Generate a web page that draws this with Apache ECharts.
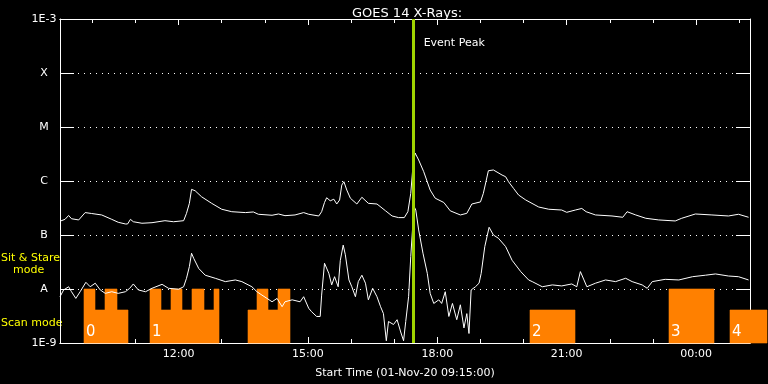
<!DOCTYPE html>
<html><head><meta charset="utf-8">
<script src="https://cdn.jsdelivr.net/npm/echarts@6/dist/echarts.min.js"></script>
<style>html,body{margin:0;padding:0;background:#000;}#c{width:768px;height:384px;}</style>
</head><body><div id="c"></div>
<script>
// ---- data ----
const titleText = 'GOES 14 X-Rays:';
const xAxisName = 'Start Time (01-Nov-20 09:15:00)';
const xMajorHours = [12, 15, 18, 21, 24];
const xMinorHours = [10, 11, 13, 14, 16, 17, 19, 20, 22, 23, 25];
const yTickLabels = ['1E-9', 'A', 'B', 'C', 'M', 'X', '1E-3'];
const eventPeakTime = '17:27';

const longTime = ['09:15','09:22','09:27','09:31','09:41','09:50','09:59','10:13','10:27','10:36','10:46','10:49','10:53','10:57','11:09','11:23','11:41','11:53','12:07','12:11','12:15','12:18','12:23','12:32','12:46','13:00','13:14','13:33','13:44','13:51','14:10','14:19','14:28','14:42','14:54','15:01','15:15','15:19','15:23','15:26','15:31','15:36','15:40','15:44','15:47','15:50','15:54','15:59','16:08','16:15','16:24','16:36','16:48','16:57','17:06','17:14','17:19','17:23','17:26','17:29','17:34','17:41','17:50','17:57','18:09','18:18','18:32','18:41','18:48','19:00','19:04','19:11','19:18','19:30','19:35','19:39','19:46','19:53','20:03','20:21','20:35','20:53','21:00','21:12','21:21','21:27','21:40','22:03','22:18','22:24','22:36','22:50','23:08','23:31','23:40','23:59','00:22','00:45','00:59','01:13'];
const longFlux = [1.8e-7,1.95e-7,2.3e-7,2.0e-7,1.9e-7,2.6e-7,2.5e-7,2.35e-7,1.95e-7,1.72e-7,1.6e-7,1.6e-7,1.95e-7,1.76e-7,1.65e-7,1.69e-7,1.84e-7,1.76e-7,1.84e-7,2.52e-7,3.86e-7,7.0e-7,6.6e-7,5.1e-7,3.86e-7,3.0e-7,2.7e-7,2.6e-7,2.67e-7,2.42e-7,2.32e-7,2.45e-7,2.28e-7,2.35e-7,2.6e-7,2.42e-7,2.25e-7,2.7e-7,4.0e-7,4.9e-7,4.3e-7,4.6e-7,3.75e-7,4.45e-7,8.4e-7,9.7e-7,6.8e-7,4.8e-7,3.75e-7,5.0e-7,3.86e-7,3.75e-7,2.8e-7,2.25e-7,2.1e-7,2.1e-7,2.7e-7,5.9e-7,1.84e-6,3.3e-6,2.45e-6,1.49e-6,6.8e-7,4.8e-7,4.0e-7,2.8e-7,2.35e-7,2.52e-7,3.75e-7,4.1e-7,5.9e-7,1.55e-6,1.6e-6,1.29e-6,1.2e-6,9.7e-7,7.3e-7,5.5e-7,4.45e-7,3.3e-7,3.0e-7,2.9e-7,2.63e-7,2.9e-7,3.1e-7,2.7e-7,2.35e-7,2.25e-7,2.13e-7,2.7e-7,2.35e-7,2.04e-7,1.9e-7,1.82e-7,2.04e-7,2.45e-7,2.35e-7,2.25e-7,2.42e-7,2.13e-7];

const shortTime = ['09:15','09:20','09:27','09:31','09:37','09:43','09:51','09:57','10:04','10:11','10:18','10:27','10:36','10:46','10:52','10:57','11:04','11:14','11:23','11:37','11:46','12:00','12:07','12:11','12:15','12:18','12:21','12:28','12:37','12:51','13:05','13:19','13:28','13:42','13:49','13:56','14:03','14:10','14:17','14:24','14:28','14:38','14:49','14:54','15:01','15:05','15:12','15:17','15:19','15:23','15:29','15:33','15:37','15:42','15:45','15:49','15:52','15:57','16:01','16:06','16:10','16:15','16:20','16:24','16:30','16:36','16:41','16:45','16:49','16:52','16:59','17:04','17:09','17:13','17:16','17:20','17:23','17:26','17:28','17:30','17:34','17:40','17:46','17:50','17:55','18:02','18:06','18:11','18:16','18:21','18:27','18:32','18:37','18:41','18:44','18:47','18:53','18:58','19:01','19:06','19:12','19:18','19:25','19:35','19:44','19:56','20:07','20:12','20:26','20:40','20:53','21:07','21:14','21:19','21:24','21:28','21:40','21:54','22:08','22:22','22:31','22:45','22:52','22:59','23:17','23:36','23:55','00:13','00:27','00:45','00:59','01:13'];
const shortFlux = [7.2e-9,9.6e-9,1.1e-8,8.9e-9,6.7e-9,8.9e-9,1.33e-8,1.1e-8,1.28e-8,9.6e-9,8.3e-9,8.9e-9,8.3e-9,8.9e-9,1.03e-8,1.24e-8,9.6e-9,8.9e-9,1.03e-8,1.22e-8,1.03e-8,9.9e-9,1.1e-8,1.58e-8,2.6e-8,4.6e-8,3.7e-8,2.4e-8,1.8e-8,1.58e-8,1.37e-8,1.47e-8,1.37e-8,1.1e-8,8.9e-9,7.7e-9,6.7e-9,5.8e-9,6.7e-9,4.7e-9,5.8e-9,6.3e-9,5.8e-9,7.2e-9,4.4e-9,3.8e-9,3.1e-9,3.1e-9,7.7e-9,3.0e-8,1.95e-8,1.19e-8,1.69e-8,1.1e-8,3.4e-8,6.5e-8,4.3e-8,1.47e-8,1.1e-8,7.2e-9,1.37e-8,1.8e-8,1.28e-8,6.3e-9,1.03e-8,7.2e-9,4.7e-9,3.5e-9,1.1e-9,2.5e-9,2.2e-9,2.7e-9,1.6e-9,1.1e-9,2.5e-9,7.2e-9,4.0e-8,1.65e-7,3.3e-7,2.9e-7,1.24e-7,4.6e-8,1.95e-8,8.3e-9,5.4e-9,6.3e-9,5.4e-9,8.9e-9,3.1e-9,5.4e-9,2.7e-9,5.1e-9,1.9e-9,3.5e-9,1.5e-9,9.6e-9,1.1e-8,1.28e-8,1.95e-8,6.1e-8,1.39e-7,1.0e-7,8.7e-8,6.1e-8,3.4e-8,2.1e-8,1.47e-8,1.37e-8,1.1e-8,1.19e-8,1.14e-8,1.24e-8,1.1e-8,2.1e-8,1.47e-8,1.1e-8,1.28e-8,1.47e-8,1.37e-8,1.58e-8,1.37e-8,1.19e-8,1.03e-8,1.37e-8,1.51e-8,1.47e-8,1.69e-8,1.8e-8,1.9e-8,1.74e-8,1.69e-8,1.47e-8];

const scanStart = ['09:49','10:04','10:18','10:34','11:20','11:36','11:49','12:05','12:19','12:35','12:49','13:37','13:49','14:04','14:18','20:09','23:22','00:47'];
const scanEnd   = ['10:04','10:18','10:34','10:49','11:36','11:49','12:05','12:19','12:35','12:49','12:56','13:49','14:04','14:18','14:35','21:11','00:25','01:38'];
const scanTop   = [1e-8,4.1e-9,1e-8,4.1e-9,1e-8,4.1e-9,1e-8,4.1e-9,1e-8,4.1e-9,1e-8,4.1e-9,1e-8,4.1e-9,1e-8,4.1e-9,1e-8,4.1e-9];
const scanLabel = ['0','','','','1','','','','','','','','','','','2','3','4'];

// ---- helpers ----
function toHours(s){ const p = s.split(':').map(Number); let v = p[0] + p[1]/60; if (v < 9) v += 24; return v; }
function fmtHour(v){ const h = Math.round(v) % 24; return (h < 10 ? '0' : '') + h + ':00'; }
const FONT = 'DejaVu Sans';

const chart = echarts.init(document.getElementById('c'));
const xBase = { type: 'value', min: 9.25, max: 25.25, gridIndex: 0, splitLine: {show: false},
  axisLine: {show: true, onZero: false, lineStyle: {color: '#fff', width: 1}} };

chart.setOption({
  backgroundColor: '#000',
  animation: false,
  title: { text: titleText, left: 402, textAlign: 'center', top: 2,
    textStyle: {color: '#fff', fontSize: 13, fontWeight: 'normal', fontFamily: FONT} },
  grid: { left: 60, right: 18, top: 19, bottom: 41, containLabel: false },
  xAxis: [
    Object.assign({}, xBase, { position: 'bottom',
      name: xAxisName, nameLocation: 'middle', nameGap: 25,
      nameTextStyle: {color: '#fff', fontSize: 11, fontFamily: FONT},
      axisTick: {show: true, inside: true, length: 6, customValues: xMajorHours, lineStyle: {color: '#fff'}},
      axisLabel: {show: true, customValues: xMajorHours, formatter: fmtHour, color: '#fff', fontSize: 11, fontFamily: FONT, margin: 6} }),
    Object.assign({}, xBase, { position: 'bottom', offset: 0,
      axisTick: {show: true, inside: true, length: 4, customValues: xMinorHours, lineStyle: {color: '#fff'}},
      axisLabel: {show: false} }),
    Object.assign({}, xBase, { position: 'top',
      axisTick: {show: true, inside: true, length: 6, customValues: xMajorHours, lineStyle: {color: '#fff'}},
      axisLabel: {show: false} }),
    Object.assign({}, xBase, { position: 'top', offset: 0,
      axisTick: {show: true, inside: true, length: 4, customValues: xMinorHours, lineStyle: {color: '#fff'}},
      axisLabel: {show: false} })
  ],
  yAxis: [
    { type: 'log', logBase: 10, min: 1e-9, max: 1e-3, interval: 1, position: 'left',
      axisLine: {show: true, onZero: false, lineStyle: {color: '#fff'}},
      axisTick: {show: true, inside: true, length: 14, lineStyle: {color: '#fff'}},
      axisLabel: {color: '#fff', fontSize: 11, fontFamily: FONT, align: 'center', margin: 16,
        showMinLabel: true, showMaxLabel: true,
        formatter: v => yTickLabels[Math.round(Math.log10(v)) + 9] || ''},
      splitLine: {show: true, lineStyle: {color: '#fff', type: [1, 5], width: 1}} },
    { type: 'log', logBase: 10, min: 1e-9, max: 1e-3, interval: 1, position: 'right',
      axisLine: {show: true, onZero: false, lineStyle: {color: '#fff'}},
      axisTick: {show: true, inside: true, length: 14, lineStyle: {color: '#fff'}},
      axisLabel: {show: false}, splitLine: {show: false} }
  ],
  graphic: [
    {type: 'text', left: 1, top: 253, style: {text: 'Sit & Stare', fill: '#ffff00', font: '11px ' + FONT}},
    {type: 'text', left: 13, top: 265, style: {text: 'mode', fill: '#ffff00', font: '11px ' + FONT}},
    {type: 'text', left: 1, top: 318, style: {text: 'Scan mode', fill: '#ffff00', font: '11px ' + FONT}}
  ],
  series: [
    { type: 'custom', name: 'scan', xAxisIndex: 0, yAxisIndex: 0, clip: false, z: 1,
      data: scanStart.map((s, i) => [toHours(s), toHours(scanEnd[i]), scanTop[i]]),
      renderItem: function(params, api){
        const p0 = api.coord([api.value(0), api.value(2)]);
        const p1 = api.coord([api.value(1), 1e-9]);
        const x0 = Math.round(p0[0]), x1 = Math.round(p1[0]);
        const y0 = Math.round(p0[1]), y1 = Math.round(p1[1]);
        const children = [{ type: 'rect', shape: {x: x0, y: y0, width: x1 - x0, height: y1 - y0},
          style: {fill: '#ff8000', stroke: '#ff8000', lineWidth: 0.6} }];
        const lab = scanLabel[params.dataIndex];
        if (lab) children.push({ type: 'text', x: x0 + 2, y: y1 - 3,
          style: {text: lab, fill: '#fff', font: '15px ' + FONT, textVerticalAlign: 'bottom', textAlign: 'left'} });
        return {type: 'group', children: children};
      } },
    { type: 'line', name: 'short', xAxisIndex: 0, yAxisIndex: 0, z: 3, symbol: 'none',
      lineStyle: {color: '#fff', width: 1}, data: shortTime.map((t, i) => [toHours(t), shortFlux[i]]) },
    { type: 'line', name: 'long', xAxisIndex: 0, yAxisIndex: 0, z: 3, symbol: 'none',
      lineStyle: {color: '#fff', width: 1}, data: longTime.map((t, i) => [toHours(t), longFlux[i]]),
      markLine: { silent: true, symbol: 'none', z: 10, label: {show: false},
        lineStyle: {color: '#9fd400', width: 3, type: 'solid', opacity: 1},
        data: [{xAxis: toHours(eventPeakTime)}] },
      markPoint: { silent: true, symbol: 'circle', symbolSize: 0,
        label: {show: true, position: 'right', distance: 10, formatter: 'Event Peak', color: '#fff', fontSize: 11, fontFamily: FONT},
        data: [{coord: [toHours(eventPeakTime), 3.6e-4]}] } }
  ]
});
</script></body></html>
